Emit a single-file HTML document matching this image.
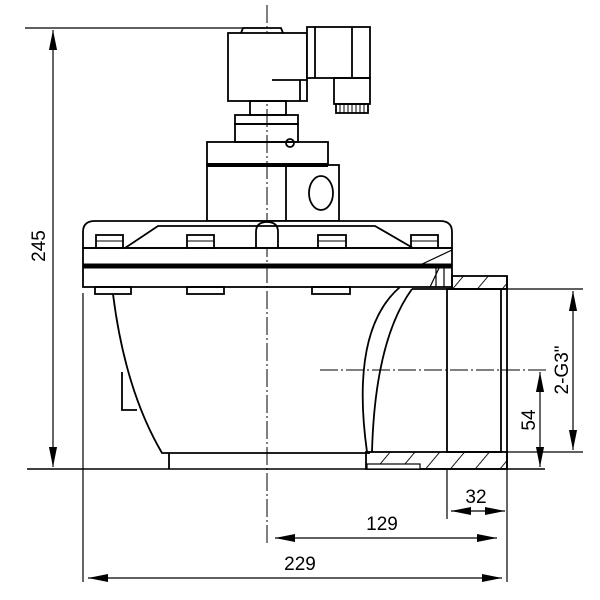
<!DOCTYPE html>
<html><head><meta charset="utf-8"><style>
html,body{margin:0;padding:0;background:#fff;}
svg{display:block;}
text{font-family:"Liberation Sans",Arial,sans-serif;font-size:19px;fill:#000;}
</style></head><body>
<svg width="600" height="600" viewBox="0 0 600 600" xmlns="http://www.w3.org/2000/svg">
<defs>
<marker id="ah" viewBox="0 0 10 10" refX="10" refY="5" markerWidth="20" markerHeight="9" markerUnits="userSpaceOnUse" orient="auto-start-reverse" preserveAspectRatio="none">
<path d="M0,0.5 L10,5 L0,9.5 Z" fill="#000"/></marker>
<pattern id="hatch" width="19" height="19" patternUnits="userSpaceOnUse" patternTransform="rotate(40)">
<line x1="0" y1="0" x2="0" y2="19" stroke="#000" stroke-width="1.8"/></pattern>
</defs>
<g fill="none" stroke="#000" stroke-width="1.8">
<line x1="267" y1="5" x2="267" y2="545" stroke-width="1" stroke-dasharray="18,3,2,3"/>
<line x1="320" y1="370" x2="548" y2="370" stroke-width="1" stroke-dasharray="18,3,2,3"/>
<line x1="25" y1="28" x2="265" y2="28" stroke-width="1.2"/>
<line x1="53" y1="30" x2="53" y2="467" stroke-width="1.2" marker-start="url(#ah)" marker-end="url(#ah)"/>
<line x1="27" y1="469" x2="545" y2="469" stroke-width="1.6"/>
<path d="M241,33 L243,28 L281,28 L283,33" />
<rect x="228" y="33" width="79" height="68" fill="#fff"/>
<line x1="272" y1="80" x2="307" y2="80"/>
<line x1="300" y1="80" x2="300" y2="101"/>
<rect x="307" y="27" width="63" height="51" fill="#fff"/>
<line x1="315" y1="27" x2="315" y2="78"/>
<line x1="352" y1="27" x2="352" y2="78"/>
<rect x="334" y="78" width="36" height="26"/>
<rect x="336" y="104" width="32" height="9"/>
<path d="M340,104 V113 M344,104 V113 M348,104 V113 M352,104 V113 M356,104 V113 M360,104 V113 M364,104 V113" stroke-width="1"/>
<rect x="250" y="101" width="36" height="14"/>
<rect x="235" y="115" width="63" height="9"/>
<rect x="235" y="124" width="63" height="18"/>
<circle cx="290" cy="143" r="4"/>
<rect x="207" y="142" width="121" height="23"/>
<line x1="207" y1="165" x2="328" y2="165" stroke-width="4"/>
<rect x="207" y="165" width="132" height="56"/>
<line x1="286" y1="165" x2="286" y2="221"/>
<ellipse cx="321" cy="193" rx="12" ry="17"/>
<path d="M83,248 V232 Q83,221 95,221 H440 Q452,221 452,232 V248 Z" fill="#fff"/>
<path d="M125,248 L158,226 H375 L413,248"/>
<path d="M256,248 V232 Q256,222 267,222 Q278,222 278,232 V248"/>
<rect x="96" y="235" width="27" height="13"/><line x1="96" y1="241" x2="123" y2="241" stroke-width="1"/>
<rect x="187" y="235" width="27" height="13"/><line x1="187" y1="241" x2="214" y2="241" stroke-width="1"/>
<rect x="318" y="235" width="28" height="13"/><line x1="318" y1="241" x2="346" y2="241" stroke-width="1"/>
<rect x="411" y="235" width="27" height="13"/><line x1="411" y1="241" x2="438" y2="241" stroke-width="1"/>
<rect x="83" y="248" width="369" height="39"/>
<line x1="83" y1="266" x2="452" y2="266" stroke-width="5"/>
<path d="M418,266 L452,250 M430,287 L440,266 M436,266 V287 M444,266 V287" stroke-width="1.2"/>
<rect x="95" y="287" width="36" height="7"/>
<rect x="187" y="287" width="37" height="7"/>
<rect x="312" y="287" width="38" height="7"/>
<line x1="83" y1="293" x2="83" y2="582" stroke-width="1.2"/>
<path d="M113,294 Q125,390 162,453 H370"/>
<path d="M122,372 V410 H137"/>
<line x1="169" y1="453" x2="169" y2="469"/>
<path d="M400,287 Q350,330 367,452"/>
<path d="M412,289 Q375,340 372,452"/>
<rect x="452" y="276" width="55" height="13" fill="url(#hatch)"/>
<rect x="366" y="452" width="141" height="17" fill="url(#hatch)"/>
<rect x="367" y="464" width="53" height="5" fill="#fff" stroke-width="1.2"/>
<line x1="412" y1="289" x2="507" y2="289"/>
<rect x="447" y="289" width="54" height="163"/>
<line x1="507" y1="276" x2="507" y2="469"/>
<line x1="505" y1="289" x2="583" y2="289" stroke-width="1.2"/>
<line x1="505" y1="452" x2="583" y2="452" stroke-width="1.2"/>
<line x1="573" y1="291" x2="573" y2="450" stroke-width="1.2" marker-start="url(#ah)" marker-end="url(#ah)"/>
<line x1="540" y1="372" x2="540" y2="467" stroke-width="1.2" marker-start="url(#ah)" marker-end="url(#ah)"/>
<line x1="447" y1="469" x2="447" y2="519" stroke-width="1.2"/>
<line x1="507" y1="469" x2="507" y2="582" stroke-width="1.2"/>
<line x1="451" y1="511" x2="505" y2="511" stroke-width="1.2" marker-start="url(#ah)" marker-end="url(#ah)"/>
<line x1="275" y1="538" x2="497" y2="538" stroke-width="1.2" marker-start="url(#ah)" marker-end="url(#ah)"/>
<line x1="88" y1="578" x2="502" y2="578" stroke-width="1.2" marker-start="url(#ah)" marker-end="url(#ah)"/>
</g>
<text x="476" y="503" text-anchor="middle">32</text>
<text x="382" y="530" text-anchor="middle">129</text>
<text x="300" y="570" text-anchor="middle">229</text>
<text transform="translate(45,246) rotate(-90)" text-anchor="middle">245</text>
<text transform="translate(535,420) rotate(-90)" text-anchor="middle">54</text>
<text transform="translate(568,370) rotate(-90)" text-anchor="middle">2-G3"</text>
</svg>
</body></html>
